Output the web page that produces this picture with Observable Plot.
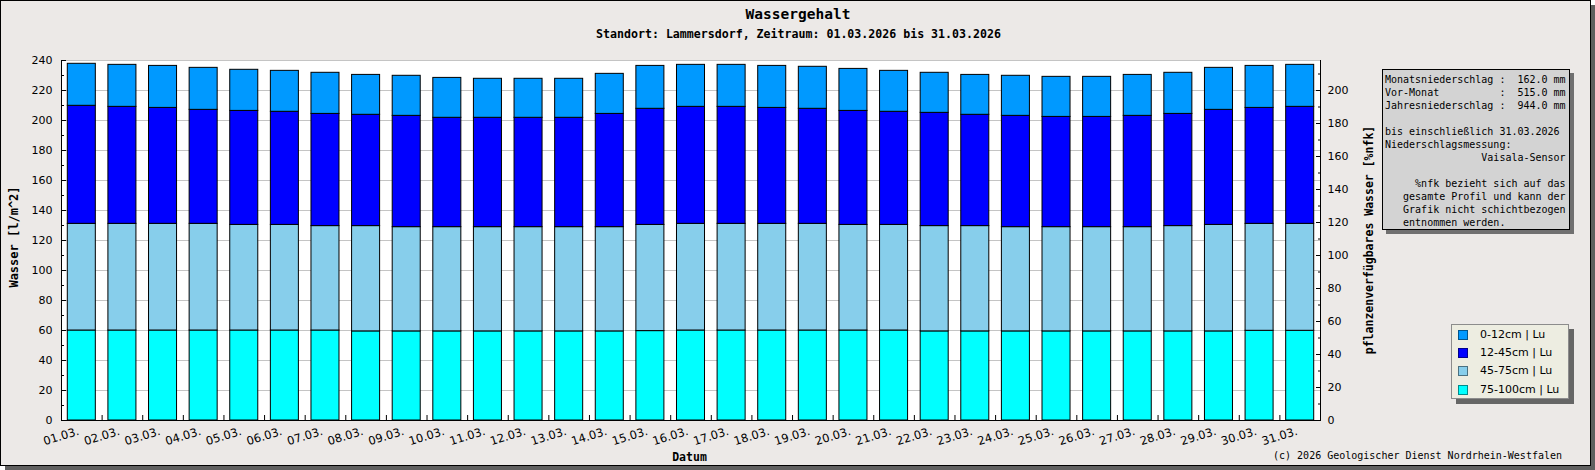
<!DOCTYPE html>
<html>
<head>
<meta charset="utf-8">
<script src="https://cdn.jsdelivr.net/npm/d3@7"></script>
<script src="https://cdn.jsdelivr.net/npm/@observablehq/plot@0.6"></script>
<style>
  html, body { margin: 0; padding: 0; background: #ffffff; }
  #frame { position: absolute; left: 0; top: 0; width: 1589px; height: 464px; border: 1px solid #000;
           background: #ECE9E7; box-shadow: 5px 5px 0 #606060; overflow: visible; }
  #frame svg { position: absolute; left: 0; top: 0; background: transparent; max-width: none; }
  .lbl { position: absolute; white-space: nowrap; color: #000; font-family: "DejaVu Sans Mono", monospace; }
  #info { position: absolute; left: 1381px; top: 68px; width: 188px; height: 161px; box-sizing: border-box;
          border: 1px solid #000; background: #D3D3D3; box-shadow: 4px 4px 0 #707070; }
  #info pre { margin: 0; padding: 3px 0 0 2px; font-family: "DejaVu Sans Mono", monospace; font-size: 10px; line-height: 13px; color: #000; }
  #legend { position: absolute; left: 1450px; top: 323px; width: 118px; height: 75px; box-sizing: border-box;
            border: 1px solid #8c8c8c; background: #EDEDE1; box-shadow: 5px 5px 0 #666; }
  .row { position: absolute; left: 0; height: 0; }
  .sw { position: absolute; left: 6px; top: -5px; width: 10px; height: 10px; box-sizing: border-box; border: 1px solid rgba(0,0,0,0.45); }
  .tx { position: absolute; left: 28px; top: -8px; font-family: "DejaVu Sans", sans-serif; font-size: 11px; line-height: 16px; white-space: nowrap; color: #000; }
</style>
</head>
<body>
<div id="frame"></div>
<script>
// ---------- data ----------
const days = ["01.03.","02.03.","03.03.","04.03.","05.03.","06.03.","07.03.","08.03.","09.03.","10.03.",
              "11.03.","12.03.","13.03.","14.03.","15.03.","16.03.","17.03.","18.03.","19.03.","20.03.",
              "21.03.","22.03.","23.03.","24.03.","25.03.","26.03.","27.03.","28.03.","29.03.","30.03.","31.03."];

const layers = ["0-12cm | Lu", "12-45cm | Lu", "45-75cm | Lu", "75-100cm | Lu"];
const layerColors = ["#0099ff", "#0000ff", "#87ceeb", "#00ffff"];

// water per layer [l/m^2]
const w0_12 = [28.0,28.0,28.0,28.0,27.4,27.3,27.4,26.6,26.7,26.6,26.0,26.0,26.0,26.7,28.6,28.0,
               28.0,28.0,28.0,28.0,27.3,26.7,26.6,26.7,26.7,26.7,27.3,27.4,28.0,28.0,28.0];
const w12_45 = [78.7,78.0,77.3,76.0,76.0,75.4,74.8,74.2,74.2,72.9,72.9,72.9,72.9,75.5,77.4,78.0,
                78.0,77.3,76.7,76.0,75.4,75.5,74.2,74.2,73.5,73.5,74.2,74.8,76.7,77.3,78.0];
const w45_75 = [71.1,71.1,71.1,71.1,70.4,70.4,69.6,70.2,69.5,69.5,69.5,69.5,69.5,69.5,70.8,71.1,
                71.1,71.1,71.1,70.4,70.4,70.2,70.2,69.5,69.5,69.5,69.5,70.2,71.0,71.3,71.3];
const w75_100 = [60.0,60.0,60.0,60.0,60.0,60.0,60.0,59.4,59.4,59.4,59.4,59.4,59.4,59.4,59.6,60.0,
                 60.0,60.0,60.0,60.0,60.0,59.4,59.4,59.4,59.4,59.4,59.4,59.4,59.4,59.8,59.8];

const leftTicks = d3.range(0, 241, 20);
const leftMinor = d3.range(10, 240, 20);
const rightTicks = d3.range(0, 201, 20);
const rightMinor = d3.range(10, 220, 20);
const nfkFactor = 1.1;   // l/m^2 per %nfk

const titleText = "Wassergehalt";
const subtitleText = "Standort: Lammersdorf, Zeitraum: 01.03.2026 bis 31.03.2026";
const yLabelLeft = "Wasser [l/m^2]";
const yLabelRight = "pflanzenverfügbares Wasser [%nfk]";
const xLabel = "Datum";
const footerText = "(c) 2026 Geologischer Dienst Nordrhein-Westfalen";
const infoLines = [
  "Monatsniederschlag :  162.0 mm",
  "Vor-Monat          :  515.0 mm",
  "Jahresniederschlag :  944.0 mm",
  "",
  "bis einschließlich 31.03.2026",
  "Niederschlagsmessung:",
  "                Vaisala-Sensor",
  "",
  "     %nfk bezieht sich auf das",
  "   gesamte Profil und kann der",
  "   Grafik nicht schichtbezogen",
  "   entnommen werden."
];

// ---------- build ----------
const series = [w0_12, w12_45, w45_75, w75_100];
const rows = [];
days.forEach((d, i) => {
  for (let k = layers.length - 1; k >= 0; k--) rows.push({day: d, layer: layers[k], value: series[k][i]});
});

const W = 1589, H = 464;
const mL = 60, mR = 270, mT = 59, mB = 45;
const pad = 0.31;
const step = (W - mL - mR) / days.length;
const r0 = mL - step * pad / 2;
const r1 = r0 + step * (days.length + pad);

const font = {fontFamily: "DejaVu Sans, sans-serif", fontSize: 11};

const plot = Plot.plot({
  width: W, height: H,
  marginLeft: mL, marginRight: mR, marginTop: mT, marginBottom: mB,
  style: {background: "transparent", fontFamily: "DejaVu Sans, sans-serif", fontSize: "11px", color: "#000"},
  x: {type: "band", domain: days, padding: pad, align: 0.5, round: false, range: [r0, r1], label: null},
  y: {domain: [0, 240], label: null},
  color: {domain: layers, range: layerColors},
  marks: [
    Plot.frame({fill: "white", stroke: null}),
    Plot.gridY(leftTicks, {stroke: "#c4c4c4", strokeOpacity: 1}),
    Plot.frame({stroke: "#000", fill: null}),
    Plot.ruleY([240], {stroke: "#c4c4c4", strokeOpacity: 1}),
    Plot.barY(rows, {x: "day", y: "value", fill: "layer", stroke: "#000", strokeWidth: 1,
                     order: layers.slice().reverse()}),
    Plot.ruleY([0], {stroke: "#000"}),
    // x ticks at band boundaries (inside)
    Plot.axisX(days, {tickSize: 5, dy: -5, dx: -step / 2, tickFormat: () => "", label: null}),
    Plot.text(days, {x: d => d, frameAnchor: "bottom", dy: 14, dx: -2, rotate: -17, textAnchor: "end",
                     fill: "#000", fontFamily: "DejaVu Sans, sans-serif", fontSize: 11.5}),
    // left axis
    Plot.axisY(leftTicks, {anchor: "left", tickSize: 5, dx: 5, tickFormat: () => "", label: null}),
    Plot.axisY(leftMinor, {anchor: "left", tickSize: 3, dx: 3, tickFormat: () => "", label: null}),
    Plot.axisY(leftTicks, {anchor: "left", tickSize: 0, tickPadding: 9, label: null, fill: "#000", ...font}),
    // right axis (%nfk)
    Plot.axisY(rightTicks.map(v => v * nfkFactor), {anchor: "right", tickSize: 5, dx: -5, tickFormat: () => "", label: null}),
    Plot.axisY(rightMinor.map(v => v * nfkFactor), {anchor: "right", tickSize: 3, dx: -3, tickFormat: () => "", label: null}),
    Plot.axisY(rightTicks.map(v => v * nfkFactor), {anchor: "right", tickSize: 0, tickPadding: 7, label: null,
               tickFormat: v => String(Math.round(v / nfkFactor)), fill: "#000", ...font})
  ]
});

const frame = document.getElementById("frame");
frame.appendChild(plot);

function label(text, x, y, css, rot) {
  const el = document.createElement("div");
  el.className = "lbl";
  el.textContent = text;
  el.style.left = (x - 1) + "px";
  el.style.top = (y - 1) + "px";
  el.style.transform = "translate(-50%,-50%)" + (rot ? " rotate(" + rot + "deg)" : "");
  Object.assign(el.style, css);
  frame.appendChild(el);
  return el;
}
label(titleText, 798, 14, {fontSize: "14.5px", fontWeight: "bold"});
label(subtitleText, 798.5, 34, {fontSize: "11.6px", fontWeight: "bold"});
label(yLabelLeft, 14, 237, {fontSize: "12px", fontWeight: "bold"}, -90);
label(yLabelRight, 1369, 240, {fontSize: "11.5px", fontWeight: "bold"}, -90);
label(xLabel, 689.5, 456.5, {fontSize: "11.5px", fontWeight: "bold"});

const foot = document.createElement("div");
foot.className = "lbl";
foot.textContent = footerText;
Object.assign(foot.style, {right: "28px", top: "454px", transform: "translateY(-50%)", fontSize: "10px"});
frame.appendChild(foot);

const info = document.createElement("div");
info.id = "info";
const pre = document.createElement("pre");
pre.textContent = infoLines.join("\n");
info.appendChild(pre);
frame.appendChild(info);

const legend = document.createElement("div");
legend.id = "legend";
layers.forEach((name, i) => {
  const row = document.createElement("div");
  row.className = "row";
  row.style.top = (10 + i * 18.2) + "px";
  const sw = document.createElement("div");
  sw.className = "sw";
  sw.style.background = layerColors[i];
  const tx = document.createElement("div");
  tx.className = "tx";
  tx.textContent = name;
  row.appendChild(sw); row.appendChild(tx);
  legend.appendChild(row);
});
frame.appendChild(legend);
</script>
</body>
</html>
